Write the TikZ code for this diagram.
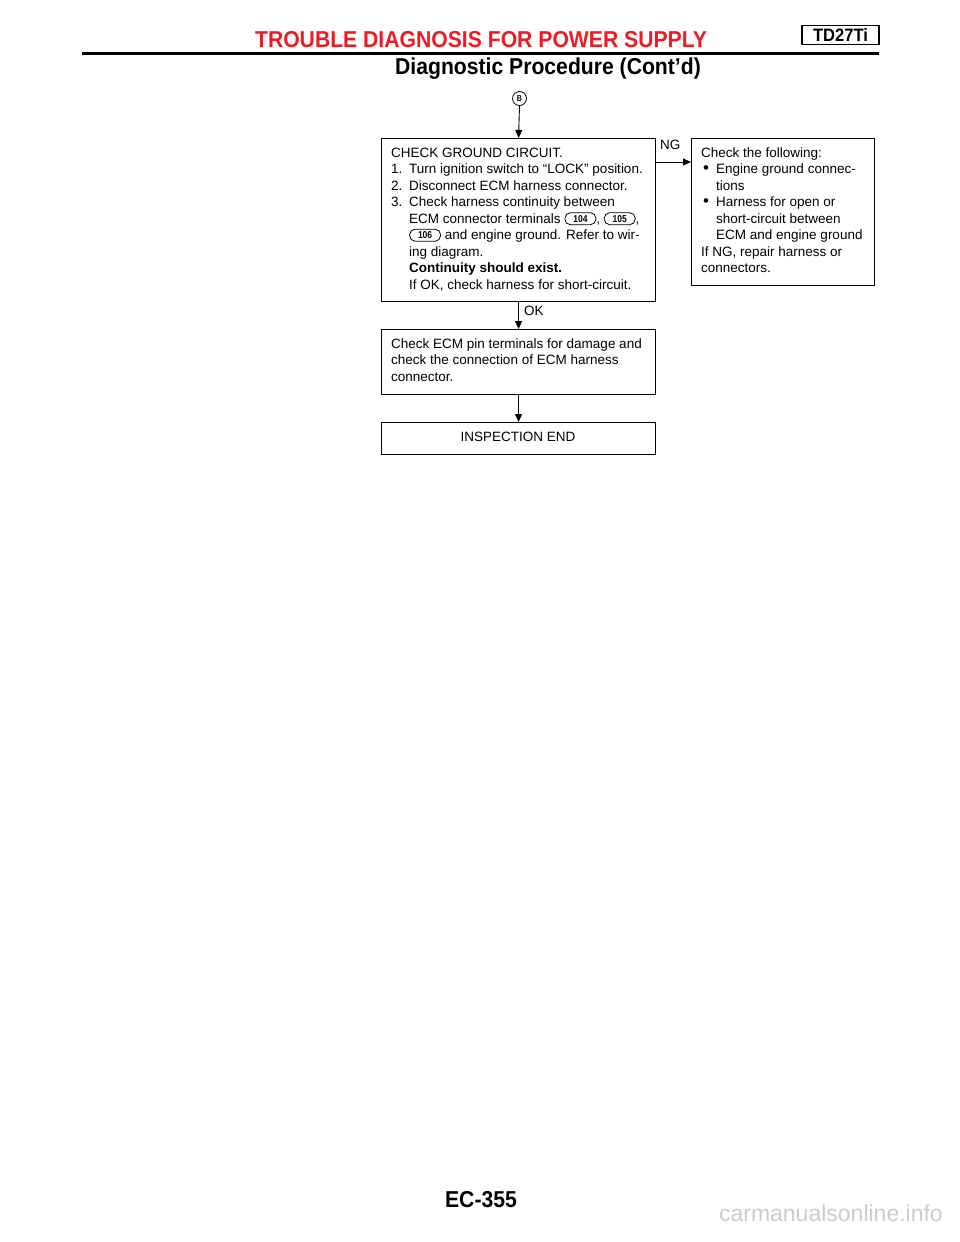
\documentclass[tikz,border=0pt]{standalone}
\usepackage{fontspec}
\setmainfont{Liberation Sans}
\newfontfamily\bodyfont{Liberation Sans}
\newfontfamily\headfont[FakeStretch=0.92]{Liberation Sans}
\newfontfamily\termfont[FakeStretch=0.85]{Liberation Sans}
\usetikzlibrary{arrows.meta}
\definecolor{hdred}{RGB}{237,28,36}
\newcommand\hi[1]{\makebox[18pt][l]{#1}}
\newcommand\ind{\hspace*{18pt}}
\newcommand\bul{\makebox[15pt][l]{\hspace*{2pt}\raisebox{0.2pt}{\scalebox{1.25}{•}}}}
\newcommand\bind{\hspace*{15pt}}
\newcommand\termsym[2]{\smash{\raisebox{4.3pt}{\tikz[baseline=(#1.center)]\node[term](#1){#2};}}}
\tikzset{
  box/.style={draw, line width=1.1pt, anchor=north west, inner sep=0pt},
  txt/.style={anchor=base west, inner sep=0pt, font=\bodyfont\fontsize{13.5}{16.5}\selectfont},
  flow/.style={line width=0.9pt, -{Triangle[length=8pt,width=7pt]}},
  term/.style={draw, rounded corners=5.5pt, line width=0.8pt, minimum width=31pt, minimum height=12pt, inner sep=0pt, font=\termfont\bfseries\fontsize{10}{10}\selectfont},
  head/.style={anchor=base, inner sep=0pt, font=\headfont\bfseries\fontsize{23}{24}\selectfont},
}
\begin{document}
\begin{tikzpicture}[x=1pt,y=-1pt]
\useasboundingbox[fill=white] (0,0) rectangle (960,1242);

% header
\node[head, text=hdred] (title) at (481,47) {TROUBLE DIAGNOSIS FOR POWER SUPPLY};
\node[draw, line width=1.4pt, minimum width=77pt, minimum height=19pt, inner sep=0pt, font=\headfont\bfseries\fontsize{18}{18}\selectfont] (model) at (840.5,35) {TD27Ti};
\coordinate (rl) at (82,53.5);
\coordinate (rr) at (879,53.5);
\draw[line width=3pt] (rl) -- (rr);
\node[head] (sub) at (548,74) {Diagnostic Procedure (Cont’d)};

% boxes
\node[box, minimum width=274pt, minimum height=163pt] (box1) at (381,138) {};
\node[box, minimum width=183pt, minimum height=147pt] (box2) at (691,138) {};
\node[box, minimum width=274pt, minimum height=65pt] (box3) at (381,329) {};
\node[box, minimum width=274pt, minimum height=32pt] (box4) at (381,422) {};

% texts
\node[txt] (t1) at (391,157) {\parbox[t]{262pt}{\raggedright
CHECK GROUND CIRCUIT.\\
\hi{1.}Turn ignition switch to “LOCK” position.\\
\hi{2.}Disconnect ECM harness connector.\\
\hi{3.}Check harness continuity between\\
\ind ECM connector terminals \termsym{t104}{104}, \termsym{t105}{105},\\
\ind\termsym{t106}{106} and engine ground. Refer to wir-\\
\ind ing diagram.\\
\ind\textbf{Continuity should exist.}\\
\ind If OK, check harness for short-circuit.}};

\node[txt] (t2) at (701,157) {\parbox[t]{172pt}{\raggedright
Check the following:\\
\bul Engine ground connec-\\
\bind tions\\
\bul Harness for open or\\
\bind short-circuit between\\
\bind ECM and engine ground\\
If NG, repair harness or\\
connectors.}};

\node[txt] (t3) at (391,348) {\parbox[t]{262pt}{\raggedright
Check ECM pin terminals for damage and\\
check the connection of ECM harness\\
connector.}};

\node[txt, anchor=base] (t4) at (518,441) {INSPECTION END};

% connectors
\node[draw, circle, minimum size=14pt, inner sep=0pt, line width=0.8pt, font=\termfont\bfseries\fontsize{8.5}{8.5}\selectfont] (B) at (519.5,98.5) {B};
\draw[flow] (B.south) -- (box1.north);
\coordinate (ngy) at (0,162);
\draw[flow] (box1.east |- ngy) -- (box2.west |- ngy);
\node[txt] (ng) at (660,149) {NG};
\draw[flow] (box1.south) -- (box3.north);
\node[txt] (ok) at (524,315.5) {OK};
\draw[flow] (box3.south) -- (box4.north);

% footer
\node[head] (page) at (481,1207) {EC-355};
\node[anchor=base east, inner sep=0pt, text=black!20, font=\fontsize{23}{24}\selectfont] (wm) at (943,1221) {carmanualsonline.info};
\end{tikzpicture}
\end{document}
